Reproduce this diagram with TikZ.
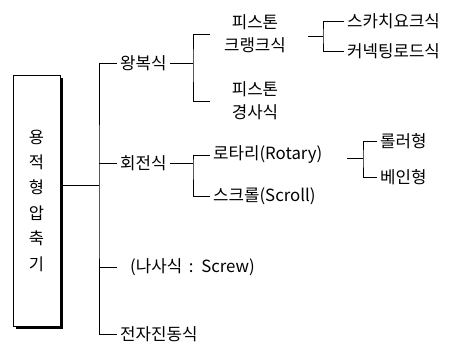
\documentclass[tikz,border=0pt]{standalone}
\usepackage{fontspec}
\setmainfont{Noto Sans CJK KR}
\begin{document}
\begin{tikzpicture}[x=1pt,y=-1pt,
  lbl/.style={font=\fontsize{16.8}{19}\selectfont, inner xsep=3pt, inner ysep=1pt, anchor=west},
  two/.style={font=\fontsize{16.8}{23}\selectfont, inner sep=0pt, text width=68pt, align=center},
  conn/.style={line width=1pt, black}]
\useasboundingbox (0,0) rectangle (451,346);

% root box
\node[draw, line width=1pt, minimum width=47pt, minimum height=251pt, inner sep=0pt,
      align=center, font=\fontsize{16.5}{25.4}\selectfont] (root) at (36.5,200.5)
      {용\\적\\형\\압\\축\\기};
\draw[line width=3pt] ([xshift=1.2pt,yshift=-3pt]root.north east) -- ([xshift=1.2pt,yshift=-1.2pt]root.south east)
      -- ([xshift=3pt,yshift=-1.2pt]root.south west);

% first level
\node[lbl] (wb) at (117,63) {왕복식};
\node[lbl] (hj) at (117,163) {회전식};
\node[lbl] (ns) at (127,267) {(나사식 \,:\, Screw)};
\node[lbl] (jj) at (117,334) {전자진동식};

\coordinate (t) at (99,185);
\draw[conn] (root.east |- t) -- (t);
\draw[conn] (wb.west) -| (t) |- (jj.west);
\draw[conn] (t |- hj.west) -- (hj.west);
\draw[conn, shorten >=10pt] (t |- ns.west) -- (ns.west);

% reciprocating
\node[two] (pc) at (255,34) {피스톤\\크랭크식};
\node[two] (pg) at (255,101) {피스톤\\경사식};
\coordinate (b1) at (193,63);
\draw[conn] (wb.east) -- (b1);
\draw[conn, shorten <=11pt, shorten >=11pt] (pc.west) -| (b1) |- (pg.west);

\node[lbl] (sk) at (344,21) {스카치요크식};
\node[lbl] (cr) at (344,51) {커넥팅로드식};
\coordinate (b3s) at (308,36);
\coordinate (b3) at (323,36);
\draw[conn] (b3s) -- (b3);
\draw[conn] (sk.west) -| (b3) |- (cr.west);

% rotary
\node[lbl] (ro) at (210,155) {로타리(Rotary)};
\node[lbl] (sc) at (210,196) {스크롤(Scroll)};
\coordinate (b2) at (193,163);
\draw[conn] (hj.east) -- (b2);
\draw[conn] (ro.west) -| (b2) |- (sc.west);

\node[lbl] (rl) at (377,141) {롤러형};
\node[lbl] (vn) at (377,177) {베인형};
\coordinate (b4s) at (347,158);
\coordinate (b4) at (363,158);
\draw[conn] (b4s) -- (b4);
\draw[conn] (rl.west) -| (b4) |- (vn.west);
\end{tikzpicture}
\end{document}
